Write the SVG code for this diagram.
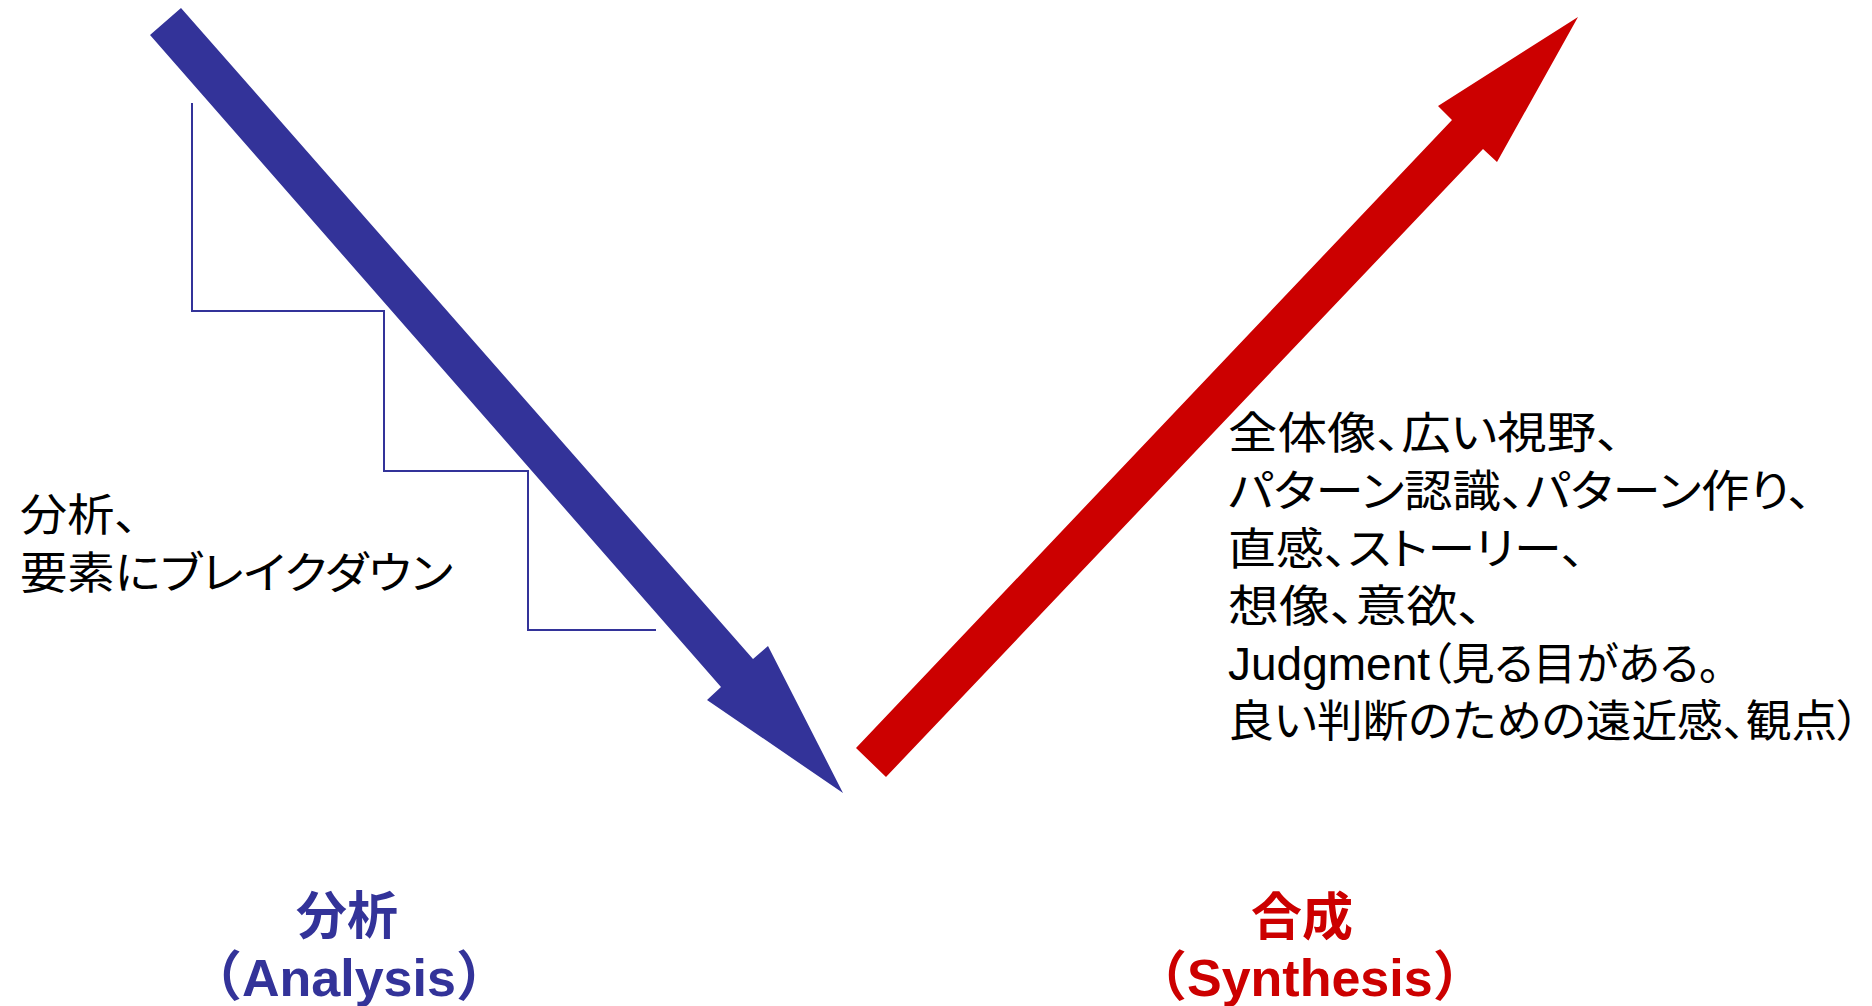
<svg xmlns="http://www.w3.org/2000/svg" width="1872" height="1006" viewBox="0 0 1872 1006">
  <style>
    .jp { font-family: "Noto Sans CJK JP", sans-serif; font-size: 44px; fill: #000000; font-feature-settings: "palt" 1; }
    .lat { font-family: "Liberation Sans", Arial, sans-serif; font-size: 46px; fill: #000000; }
    .lbl { font-family: "Noto Sans CJK JP", sans-serif; font-weight: bold; font-size: 51px; }
    .lblp { font-family: "Noto Sans CJK JP", sans-serif; font-weight: bold; font-size: 54px; }
    .lbll { font-family: "Liberation Sans", Arial, sans-serif; font-weight: bold; font-size: 52px; }
    .blue { fill: #333399; }
    .red { fill: #CC0000; }
  </style>
  <rect width="1872" height="1006" fill="#ffffff"/>

  <g id="analysis-arrow">
    <polygon class="blue" points="181,8 753,659 768,646 843,793 707,700 721,687 150,35"/>
  </g>

  <g id="breakdown-steps">
    <polyline points="192,103 192,311 384,311 384,471 528,471 528,630 656,630" fill="none" stroke="#333399" stroke-width="2"/>
  </g>

  <g id="synthesis-arrow">
    <polygon class="red" points="856,748 1452,120 1438,106 1578,17 1497,162 1483,149 886,777"/>
  </g>

  <g id="analysis-text">
    <text class="jp" x="20" y="531" textLength="118" lengthAdjust="spacingAndGlyphs">分析、</text>
    <text class="jp" x="20" y="589" textLength="433" lengthAdjust="spacingAndGlyphs">要素にブレイクダウン</text>
  </g>

  <g id="synthesis-text">
    <text class="jp" x="1228" y="449" textLength="393" lengthAdjust="spacingAndGlyphs">全体像、広い視野、</text>
    <text class="jp" x="1228" y="507" textLength="584" lengthAdjust="spacingAndGlyphs">パターン認識、パターン作り、</text>
    <text class="jp" x="1228" y="565" textLength="357" lengthAdjust="spacingAndGlyphs">直感、ストーリー、</text>
    <text class="jp" x="1228" y="622" textLength="255" lengthAdjust="spacingAndGlyphs">想像、意欲、</text>
    <text x="1228" y="680"><tspan class="lat">Judgment</tspan><tspan class="jp" textLength="290" lengthAdjust="spacingAndGlyphs">（見る目がある。</tspan></text>
    <text class="jp" x="1228" y="737" textLength="632" lengthAdjust="spacingAndGlyphs">良い判断のための遠近感、観点）</text>
  </g>

  <g id="analysis-label">
    <text class="lbl blue" x="347" y="934" text-anchor="middle">分析</text>
    <text class="blue" x="188" y="996"><tspan class="lblp">（</tspan><tspan class="lbll">Analysis</tspan><tspan class="lblp">）</tspan></text>
  </g>

  <g id="synthesis-label">
    <text class="lbl red" x="1302" y="935" text-anchor="middle">合成</text>
    <text class="red" x="1133" y="996"><tspan class="lblp">（</tspan><tspan class="lbll">Synthesis</tspan><tspan class="lblp">）</tspan></text>
  </g>
</svg>
